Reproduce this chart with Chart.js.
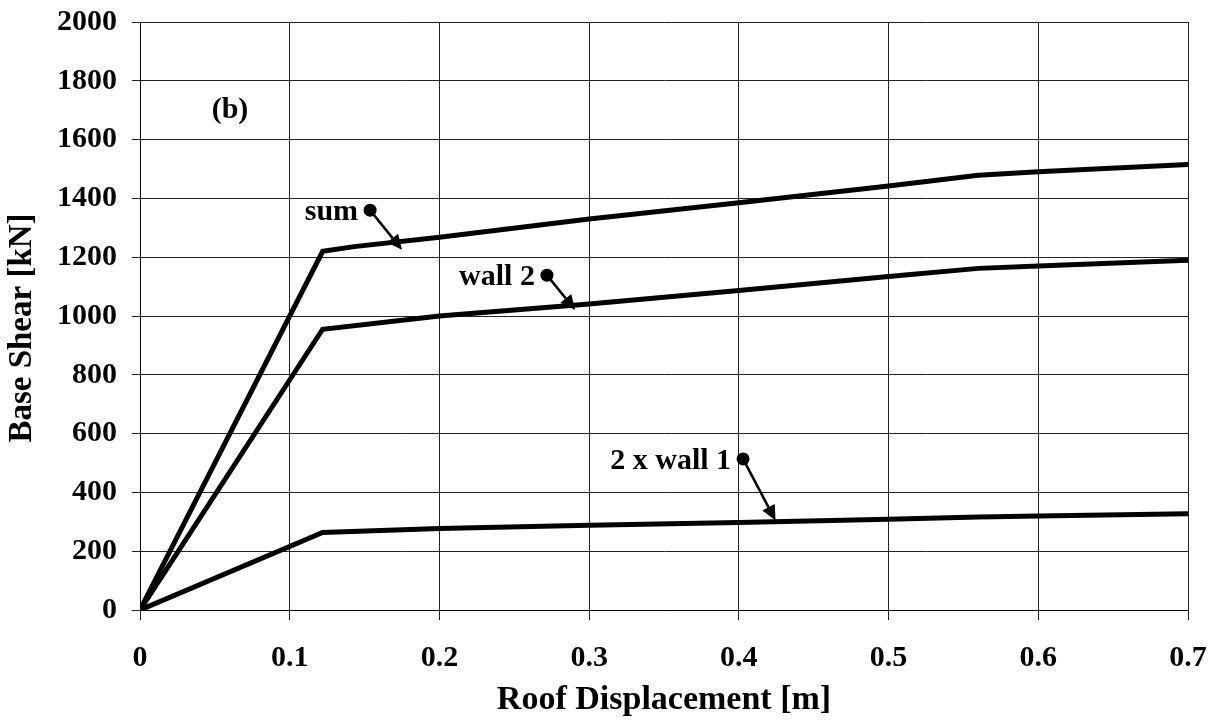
<!DOCTYPE html>
<html>
<head>
<meta charset="utf-8">
<script src="https://cdn.jsdelivr.net/npm/chart.js@4"></script>
<style>
  body { margin: 0; background: #fff; }
  canvas { display: block; }
</style>
</head>
<body>
<canvas id="pushover" width="1215" height="725"></canvas>
<script>
// valores (deslocamento em m, corte basal em kN)
const xSum = [0, 0.122, 0.143, 0.2, 0.3, 0.4, 0.5, 0.56, 0.6, 0.7];
const ySum = [0, 1220, 1236, 1268, 1330, 1385, 1442, 1479, 1491, 1515];

const xWall2 = [0, 0.122, 0.2, 0.3, 0.4, 0.5, 0.56, 0.6, 0.7];
const yWall2 = [0, 955, 1000, 1041, 1087, 1134, 1162, 1170, 1190];

const xWall1 = [0, 0.122, 0.2, 0.3, 0.4, 0.5, 0.56, 0.6, 0.7];
const yWall1 = [0, 264, 277, 288, 298, 309, 316, 320, 327];

const xTicks = [0, 0.1, 0.2, 0.3, 0.4, 0.5, 0.6, 0.7];
const xTickLabels = ['0', '0.1', '0.2', '0.3', '0.4', '0.5', '0.6', '0.7'];
const yTicks = [0, 200, 400, 600, 800, 1000, 1200, 1400, 1600, 1800, 2000];

// rótulos com seta: texto, ponto (bolinha) e ponta da seta
const anotacoes = [
  { texto: 'sum', dot: [0.1537, 1360], tip: [0.175, 1225] },
  { texto: 'wall 2', dot: [0.2718, 1139], tip: [0.2907, 1020] },
  { texto: '2 x wall 1', dot: [0.4028, 514], tip: [0.4245, 304] }
];
const painel = { texto: '(b)', pos: [0.0601, 1700] };
const tituloY = 'Base Shear [kN]';

const fonte = '"Liberation Serif", "Times New Roman", serif';

function pares(xs, ys) {
  return xs.map((x, i) => ({ x: x, y: ys[i] }));
}

function serie(xs, ys) {
  return {
    data: pares(xs, ys),
    borderColor: '#000',
    borderWidth: 5,
    pointRadius: 0,
    tension: 0,
    fill: false
  };
}

// desenha textos, bolinhas e setas usando as escalas do gráfico
const pluginAnotacoes = {
  id: 'anotacoes',
  afterDatasetsDraw(chart) {
    const ctx = chart.ctx;
    const sx = chart.scales.x;
    const sy = chart.scales.y;
    ctx.save();
    ctx.fillStyle = '#000';
    ctx.strokeStyle = '#000';
    ctx.font = 'bold 30px ' + fonte;
    ctx.textBaseline = 'middle';

    anotacoes.forEach(a => {
      const dx = sx.getPixelForValue(a.dot[0]);
      const dy = sy.getPixelForValue(a.dot[1]);
      const tx = sx.getPixelForValue(a.tip[0]);
      const ty = sy.getPixelForValue(a.tip[1]);

      ctx.textAlign = 'right';
      ctx.fillText(a.texto, dx - 12, dy + 2);

      ctx.beginPath();
      ctx.arc(dx, dy, 6.5, 0, Math.PI * 2);
      ctx.fill();

      const ang = Math.atan2(ty - dy, tx - dx);
      const len = 15, larg = 7;
      const bx = tx - len * Math.cos(ang);
      const by = ty - len * Math.sin(ang);
      ctx.lineWidth = 2.5;
      ctx.beginPath();
      ctx.moveTo(dx, dy);
      ctx.lineTo(bx, by);
      ctx.stroke();

      ctx.beginPath();
      ctx.moveTo(tx, ty);
      ctx.lineTo(bx + larg * Math.sin(ang), by - larg * Math.cos(ang));
      ctx.lineTo(bx - larg * Math.sin(ang), by + larg * Math.cos(ang));
      ctx.closePath();
      ctx.fill();
    });

    ctx.textAlign = 'center';
    ctx.fillText(painel.texto, sx.getPixelForValue(painel.pos[0]), sy.getPixelForValue(painel.pos[1]));

    // título do eixo y, um pouco abaixo do centro como no original
    const area = chart.chartArea;
    ctx.font = 'bold 33px ' + fonte;
    ctx.translate(22, (area.top + area.bottom) / 2 + 12);
    ctx.rotate(-Math.PI / 2);
    ctx.fillText(tituloY, 0, 0);
    ctx.restore();
  }
};

const ctx = document.getElementById('pushover').getContext('2d');
new Chart(ctx, {
  type: 'line',
  data: {
    datasets: [
      serie(xSum, ySum),
      serie(xWall2, yWall2),
      serie(xWall1, yWall1)
    ]
  },
  options: {
    responsive: false,
    animation: false,
    devicePixelRatio: 1,
    layout: { padding: { left: 0, right: 27, top: 22, bottom: 0 } },
    plugins: {
      legend: { display: false },
      tooltip: { enabled: false }
    },
    scales: {
      x: {
        type: 'linear',
        min: 0,
        max: 0.7,
        afterBuildTicks: scale => { scale.ticks = xTicks.map(v => ({ value: v })); },
        afterFit: scale => {
          scale.height = 115;
          scale.paddingLeft = 0;
          scale.paddingRight = 0;
        },
        grid: { color: '#222', lineWidth: 1, tickLength: 10, drawTicks: true },
        border: { color: '#000', width: 1 },
        ticks: {
          color: '#000',
          padding: 20,
          maxRotation: 0,
          font: { family: fonte, size: 30, weight: 'bold' },
          callback: (v, i) => xTickLabels[i]
        },
        title: {
          display: true,
          text: 'Roof Displacement [m]',
          color: '#000',
          padding: { top: 0, bottom: 4 },
          font: { family: fonte, size: 34, weight: 'bold' }
        }
      },
      y: {
        type: 'linear',
        min: 0,
        max: 2000,
        afterBuildTicks: scale => { scale.ticks = yTicks.map(v => ({ value: v })); },
        afterFit: scale => {
          scale.width = 140;
          scale.paddingTop = 0;
          scale.paddingBottom = 0;
        },
        grid: { color: '#222', lineWidth: 1, tickLength: 8, drawTicks: true },
        border: { color: '#000', width: 1 },
        ticks: {
          color: '#000',
          padding: 15,
          font: { family: fonte, size: 30, weight: 'bold' },
          callback: v => String(v)
        },
        title: { display: false }
      }
    }
  },
  plugins: [pluginAnotacoes]
});
</script>
</body>
</html>
